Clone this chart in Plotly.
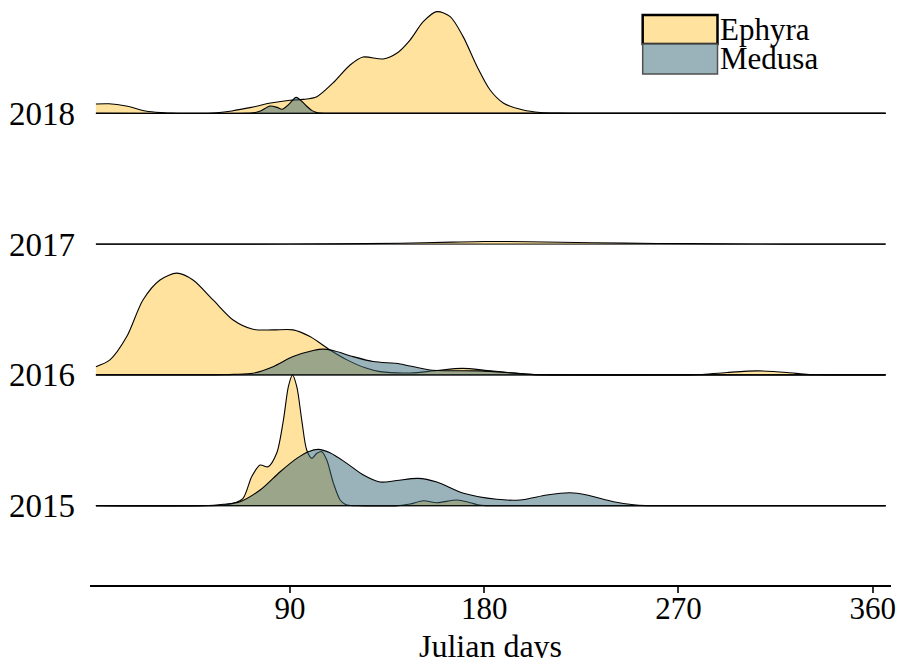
import plotly.graph_objects as go

# ---------------- data ----------------
YEARS = ["2015", "2016", "2017", "2018"]
YEAR_POS = [1, 2, 3, 4]
DAY_SPAN = [0, 366]
X_TICKS = [90, 180, 270, 360]
SERIES = ["Ephyra", "Medusa"]

# density heights are in units of ridge spacing
EPH_2018_DAY = [0, 6, 14, 23, 30, 35, 38, 52, 56, 63, 72, 81, 90, 96, 102.4, 109.9, 117.8, 123.8, 133.1, 139.6,
                145.6, 151.7, 158, 164.2, 170.2, 176.7, 182.7, 188.8, 198, 206, 214, 222, 366]
EPH_2018_H = [0.071, 0.073, 0.056, 0.018, 0.005, 0.001, 0, 0, 0.004, 0.018, 0.045, 0.078, 0.100, 0.106, 0.127,
              0.232, 0.369, 0.430, 0.415, 0.461, 0.560, 0.700, 0.777, 0.739, 0.586, 0.356, 0.178, 0.079, 0.025,
              0.006, 0.001, 0, 0]
MED_2018_DAY = [0, 70, 73, 76.5, 80.7, 84, 86.3, 89.5, 92.8, 95.5, 98, 100, 102, 104, 107, 366]
MED_2018_H = [0, 0, 0.003, 0.02, 0.056, 0.045, 0.031, 0.07, 0.122, 0.09, 0.05, 0.022, 0.007, 0.001, 0, 0]

EPH_2017_DAY = [0, 75, 110, 141, 165, 180, 200, 230, 260, 290, 320, 366]
EPH_2017_H = [0, 0, 0.002, 0.006, 0.015, 0.020, 0.018, 0.010, 0.005, 0.002, 0, 0]

EPH_2016_DAY = [0, 6.5, 14.3, 21.8, 29.7, 37.5, 45, 54.3, 63.6, 72.8, 82.1, 91.4, 99.2, 108.5, 116.4, 124.8,
                131.7, 145.6, 158.1, 169.7, 181.3, 190, 196.6, 203, 209, 275, 280, 292.6, 306.5, 320.4, 328,
                334, 340, 366]
EPH_2016_H = [0.063, 0.115, 0.293, 0.573, 0.726, 0.778, 0.726, 0.573, 0.42, 0.349, 0.344, 0.344, 0.293, 0.191,
              0.115, 0.054, 0.025, 0.015, 0.034, 0.05, 0.034, 0.02, 0.009, 0.002, 0, 0, 0.003, 0.019, 0.031,
              0.019, 0.006, 0.001, 0, 0]
MED_2016_DAY = [0, 55, 60, 64, 72.8, 82.1, 91.4, 100.7, 105.3, 109.9, 119.2, 128.5, 141, 154.9, 178.1, 192,
                200, 206, 212, 366]
MED_2016_H = [0, 0, 0.001, 0.004, 0.013, 0.063, 0.140, 0.186, 0.197, 0.186, 0.140, 0.102, 0.084, 0.038, 0.031,
              0.016, 0.006, 0.001, 0, 0]

EPH_2015_DAY = [0, 50, 58, 63.6, 68.2, 72.2, 76.1, 79.8, 83.8, 86.9, 89.2, 91.1, 93.1, 95.4, 97.7, 100.1, 102.4,
                104.7, 107, 110.1, 113.2, 115.5, 118, 121, 140, 145.6, 151.8, 158, 167.3, 173.5, 177, 180.5,
                184, 366]
EPH_2015_H = [0, 0, 0.004, 0.018, 0.057, 0.222, 0.311, 0.298, 0.403, 0.655, 0.91, 0.999, 0.91, 0.655, 0.426,
              0.362, 0.401, 0.413, 0.349, 0.171, 0.044, 0.012, 0.002, 0, 0, 0.013, 0.038, 0.023, 0.044, 0.023,
              0.008, 0.001, 0, 0]
MED_2015_DAY = [0, 49.8, 59.1, 66.8, 76.1, 85.4, 93.1, 98.5, 103.1, 108.5, 116.3, 124, 131.7, 139.5, 149.3, 158,
                170.4, 185.8, 196.6, 209, 219.8, 227.6, 239.9, 249.2, 255, 261, 366]
MED_2015_H = [0, 0, 0.011, 0.031, 0.12, 0.26, 0.362, 0.413, 0.431, 0.405, 0.324, 0.235, 0.181, 0.193, 0.209,
              0.181, 0.095, 0.049, 0.044, 0.082, 0.099, 0.082, 0.031, 0.007, 0.001, 0, 0]

RIDGES = {
    "2018": [(EPH_2018_DAY, EPH_2018_H), (MED_2018_DAY, MED_2018_H)],
    "2017": [(EPH_2017_DAY, EPH_2017_H), None],
    "2016": [(EPH_2016_DAY, EPH_2016_H), (MED_2016_DAY, MED_2016_H)],
    "2015": [(EPH_2015_DAY, EPH_2015_H), (MED_2015_DAY, MED_2015_H)],
}

# ---------------- styles ----------------
FONT = "Liberation Serif, Times New Roman, serif"
FILLS = {"Ephyra": "rgba(255,197,61,0.5)", "Medusa": "rgba(53,103,117,0.5)"}
LEGEND_SWATCH = {"Ephyra": "#FFE29E", "Medusa": "#9AB3BA"}

fig = go.Figure()

# draw upper ridges first so lower ones sit on top
for year, pos in sorted(zip(YEARS, YEAR_POS), key=lambda t: -t[1]):
    for name, series in zip(SERIES, RIDGES[year]):
        if series is None:
            continue
        days, heights = series
        fig.add_trace(go.Scatter(
            x=DAY_SPAN, y=[pos, pos], mode="lines",
            line=dict(color="black", width=1), hoverinfo="skip", showlegend=False))
        fig.add_trace(go.Scatter(
            x=days, y=[pos + h for h in heights], mode="lines", name=name,
            line=dict(color="black", width=1.1, shape="spline", smoothing=0.8),
            fill="tonexty", fillcolor=FILLS[name], showlegend=False))

# legend drawn as boxes + labels (matching the reference's large key)
box_x0, box_x1 = 0.690, 0.7834
rows = [(0.9744, 0.9248), (0.9248, 0.8735)]
for name, (ytop, ybot) in zip(SERIES, rows):
    fig.add_shape(type="rect", xref="paper", yref="paper", x0=box_x0, x1=box_x1, y0=ybot, y1=ytop,
                  fillcolor=LEGEND_SWATCH[name],
                  line=dict(color="black" if name == "Ephyra" else "#505050",
                            width=2.5 if name == "Ephyra" else 1.5),
                  layer="below")
    fig.add_annotation(xref="paper", yref="paper", x=box_x1, y=(ytop + ybot) / 2, text=name,
                       showarrow=False, xanchor="left", yanchor="middle",
                       font=dict(family=FONT, size=31, color="black"))

# figure is 6px taller than the window; the bottom of the title is cut off as in the reference
fig.update_layout(
    template="none",
    width=898, height=664,
    margin=dict(l=90, r=7, t=0, b=79, pad=0),
    paper_bgcolor="white", plot_bgcolor="white",
    font=dict(family=FONT, color="black"),
    showlegend=False,
    xaxis=dict(
        range=[-2.74, 368.5], tickvals=X_TICKS, ticktext=[str(v) for v in X_TICKS],
        showgrid=False, zeroline=False, showline=True, linecolor="black", linewidth=2,
        ticks="outside", ticklen=6, tickwidth=2, tickcolor="#333333",
        ticklabelstandoff=-11,
        tickfont=dict(family=FONT, size=31, color="black"),
        title=dict(text="Julian days", font=dict(family=FONT, size=32, color="black"), standoff=18),
        automargin=False,
    ),
    yaxis=dict(
        range=[0.394, 4.866], tickvals=YEAR_POS, ticktext=YEARS,
        showgrid=False, zeroline=False, showline=False, ticks="",
        ticklabelstandoff=14,
        tickfont=dict(family=FONT, size=33, color="black"),
        automargin=False,
    ),
)

# remove the browser's default 8px body margin so the figure fills the window exactly
fig.write_html("out.html", config={"displayModeBar": False},
               post_script="document.body.style.margin='0';document.body.style.overflow='hidden';")
